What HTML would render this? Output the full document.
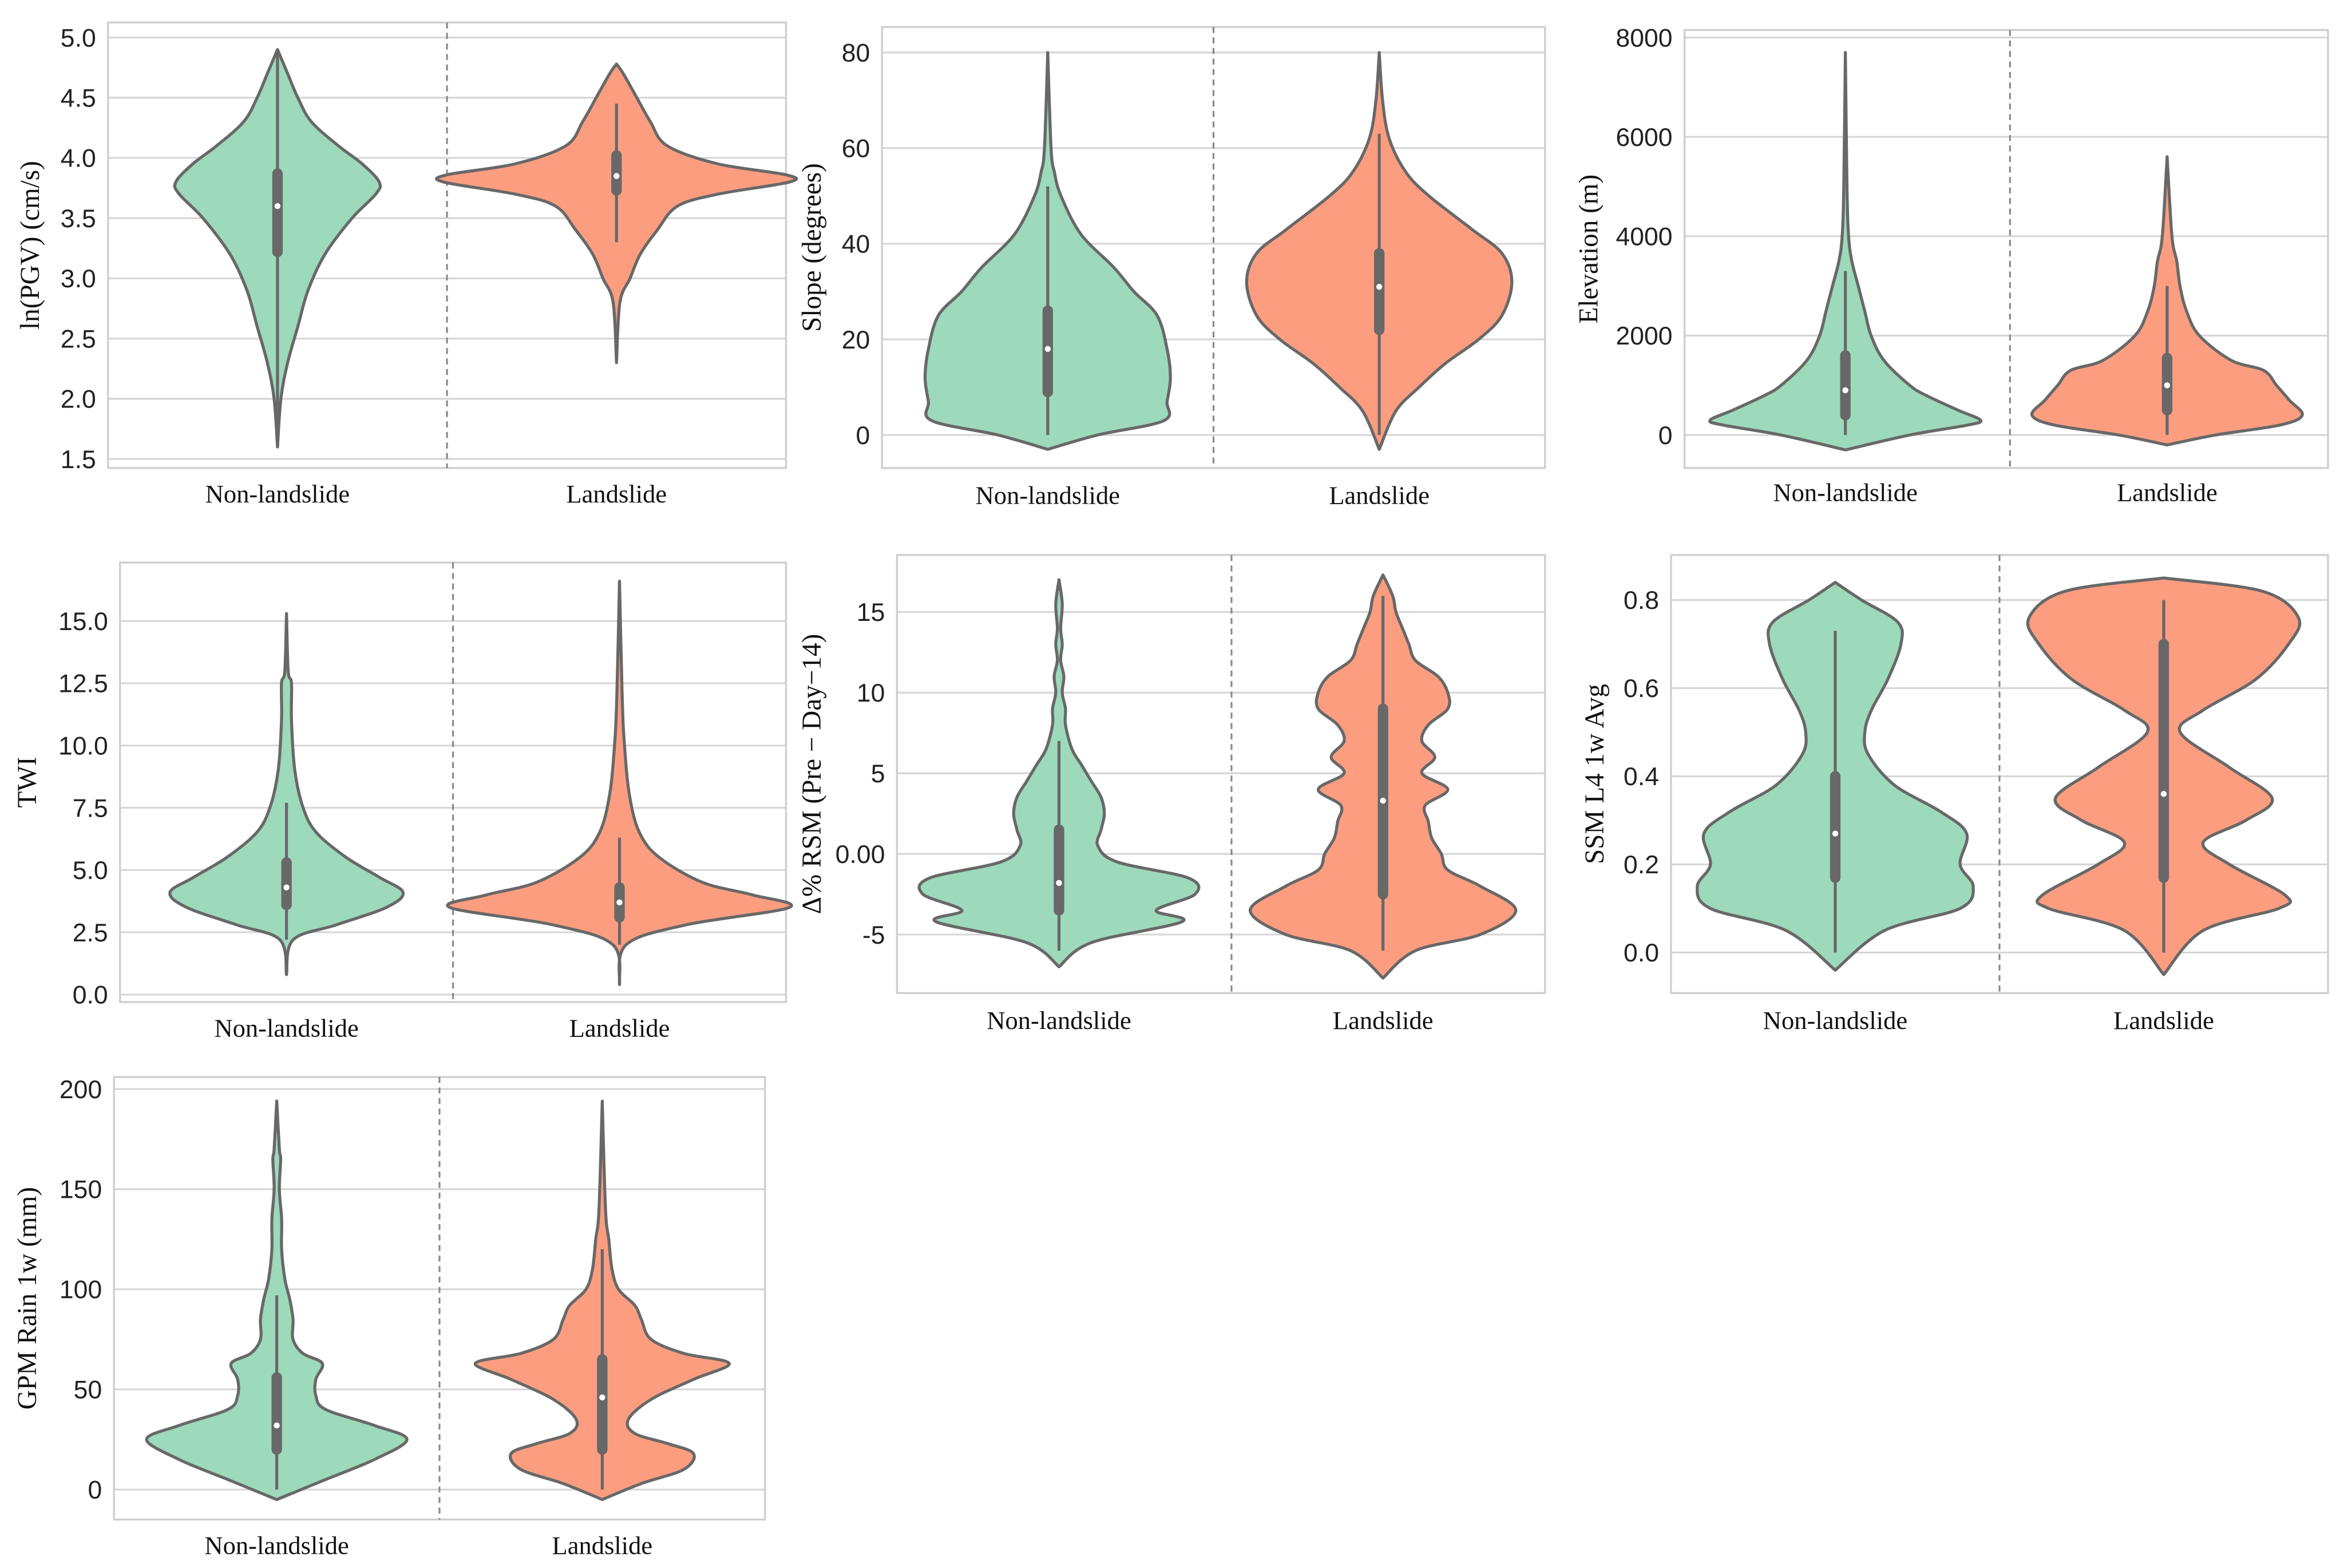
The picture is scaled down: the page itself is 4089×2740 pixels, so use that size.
<!DOCTYPE html>
<html><head><meta charset="utf-8"><style>
html,body{margin:0;padding:0;background:#fff;}
svg{display:block;}
.tick{font-family:"Liberation Sans",sans-serif;font-size:17px;fill:#222;}
.cat{font-family:"Liberation Serif",serif;font-size:17px;fill:#111;}
.ylab{font-family:"Liberation Serif",serif;font-size:18px;fill:#111;}
</style></head><body>
<svg id="chart" width="4089" height="2740" viewBox="0 0 1560 1045.3" preserveAspectRatio="none" xmlns="http://www.w3.org/2000/svg"></svg>
<script>
// ---- data: density profiles [value, relative half width], box stats [q1, median, q3, whiskerLo, whiskerHi]
const categories = ["Non-landslide", "Landslide"];
const pgvNL = [[1.6,0],[2.0,0.01],[2.3,0.03],[2.6,0.06],[2.9,0.09],[3.2,0.14],[3.5,0.22],[3.7,0.29],[3.8,0.30],[3.95,0.25],[4.1,0.18],[4.3,0.10],[4.5,0.06],[4.7,0.03],[4.9,0]];
const pgvL = [[2.3,0],[2.8,0.01],[3.0,0.04],[3.2,0.07],[3.4,0.12],[3.6,0.18],[3.7,0.3],[3.8,0.51],[3.86,0.5],[3.95,0.3],[4.1,0.15],[4.3,0.1],[4.5,0.06],[4.7,0.02],[4.78,0]];
const pgvBox = [[3.22,3.6,3.87,1.6,4.9],[3.73,3.85,4.02,3.3,4.45]];
const slopeNL = [[-3,0],[0,0.15],[3,0.35],[7,0.36],[12,0.37],[18,0.36],[25,0.33],[30,0.26],[35,0.2],[42,0.1],[50,0.04],[55,0.02],[60,0.01],[80,0]];
const slopeL = [[-3,0],[5,0.05],[10,0.12],[15,0.2],[20,0.3],[25,0.37],[32,0.40],[38,0.37],[43,0.28],[50,0.15],[55,0.08],[62,0.03],[70,0.01],[80,0]];
const slopeBox = [[9,18,26,0,52],[22,31,38,0,63]];
const elevNL = [[-300,0],[0,0.2],[200,0.38],[300,0.42],[500,0.35],[800,0.25],[1000,0.2],[1500,0.12],[2000,0.08],[2500,0.06],[3000,0.04],[3500,0.02],[4000,0.01],[5000,0.005],[7700,0]];
const elevL = [[-200,0],[0,0.15],[200,0.35],[400,0.42],[700,0.38],[1000,0.34],[1300,0.3],[1500,0.2],[2000,0.1],[2500,0.06],[3000,0.04],[3500,0.03],[4000,0.015],[5600,0]];
const elevBox = [[400,900,1600,0,3300],[500,1000,1550,0,3000]];
const twiNL = [[0.8,0],[2.2,0.02],[2.8,0.15],[3.5,0.3],[4.1,0.35],[4.7,0.28],[5.5,0.18],[6.5,0.09],[7.5,0.05],[9,0.025],[11,0.015],[12.5,0.015],[13,0.005],[15.3,0]];
const twiL = [[0.4,0],[2,0.02],[2.8,0.2],[3.5,0.51],[4,0.4],[4.5,0.25],[5.5,0.12],[6.5,0.06],[8,0.03],[10,0.015],[12,0.008],[16.6,0]];
const twiBox = [[3.6,4.3,5.3,2.2,7.7],[3.1,3.7,4.3,2.0,6.3]];
const rsmNL = [[-7,0],[-5.5,0.1],[-4.2,0.38],[-3.5,0.3],[-2.5,0.42],[-1.5,0.4],[-0.5,0.18],[0.5,0.12],[1.5,0.13],[2.5,0.14],[3.5,0.13],[4.5,0.1],[5.5,0.07],[6.5,0.04],[8,0.02],[9,0.02],[10,0.01],[11,0.015],[12,0.005],[13,0.01],[14,0.005],[15.5,0.01],[17,0]];
const rsmL = [[-7.7,0],[-6,0.1],[-5,0.3],[-3.5,0.41],[-2,0.3],[-1,0.2],[0,0.18],[1,0.15],[2,0.14],[3,0.13],[4,0.2],[5,0.12],[6,0.16],[7,0.12],[8,0.14],[9,0.2],[10,0.2],[11,0.17],[12,0.1],[13,0.08],[14,0.06],[15,0.04],[16,0.03],[17.3,0]];
const rsmBox = [[-3.5,-1.8,1.5,-6,7],[-2.5,3.3,9,-6,16]];
const ssmNL = [[-0.04,0],[0.05,0.15],[0.1,0.38],[0.15,0.42],[0.2,0.38],[0.27,0.4],[0.32,0.32],[0.38,0.18],[0.45,0.1],[0.5,0.09],[0.55,0.11],[0.62,0.16],[0.7,0.2],[0.75,0.19],[0.8,0.08],[0.84,0]];
const ssmL = [[-0.05,0],[0.05,0.12],[0.1,0.35],[0.13,0.37],[0.2,0.2],[0.25,0.12],[0.3,0.25],[0.35,0.33],[0.42,0.2],[0.5,0.05],[0.55,0.12],[0.62,0.28],[0.7,0.38],[0.76,0.41],[0.82,0.3],[0.85,0]];
const ssmBox = [[0.17,0.27,0.4,0,0.73],[0.17,0.36,0.7,0,0.8]];
const gpmNL = [[-5,0],[5,0.15],[15,0.3],[25,0.4],[32,0.3],[40,0.15],[47,0.12],[55,0.12],[63,0.14],[68,0.08],[75,0.05],[85,0.05],[95,0.04],[105,0.025],[120,0.015],[135,0.015],[150,0.008],[165,0.012],[170,0.008],[194,0]];
const gpmL = [[-5,0],[3,0.12],[10,0.25],[18,0.28],[23,0.2],[28,0.1],[35,0.08],[45,0.15],[55,0.28],[63,0.39],[68,0.25],[75,0.15],[85,0.12],[92,0.1],[100,0.05],[110,0.03],[125,0.02],[140,0.01],[194,0]];
const gpmBox = [[20,32,56,0,97],[20,46,65,0,120]];
const pgvTicks=[1.5,2.0,2.5,3.0,3.5,4.0,4.5,5.0], slopeTicks=[0,20,40,60,80], elevTicks=[0,2000,4000,6000,8000],
 twiTicks=[0,2.5,5,7.5,10,12.5,15], rsmTicks=[-5,0,5,10,15], ssmTicks=[0,0.2,0.4,0.6,0.8], gpmTicks=[0,50,100,150,200];

const panels = [
 {name:"pgv",L:72,R:524,T:15,B:312,p0:306,v0:1.5,p1:25,v1:5.0,ticks:pgvTicks,dec:1,label:"ln(PGV) (cm/s)",lx:20,cy:330,div:298,v:[pgvNL,pgvL],box:pgvBox},
 {name:"slope",L:588,R:1030,T:18,B:312,p0:290,v0:0,p1:35,v1:80,ticks:slopeTicks,dec:0,label:"Slope (degrees)",lx:541,cy:331,div:809,v:[slopeNL,slopeL],box:slopeBox},
 {name:"elevation",L:1123,R:1552,T:20,B:312,p0:290,v0:0,p1:25,v1:8000,ticks:elevTicks,dec:0,label:"Elevation (m)",lx:1059,cy:329,div:1340,v:[elevNL,elevL],box:elevBox},
 {name:"twi",L:80,R:524,T:375,B:668,p0:663,v0:0,p1:414,v1:15,ticks:twiTicks,dec:1,label:"TWI",lx:18,cy:686,div:302,v:[twiNL,twiL],box:twiBox},
 {name:"rsm",L:598,R:1030,T:370,B:662,p0:623,v0:-5,p1:408,v1:15,ticks:rsmTicks,dec:2,label:"Δ% RSM (Pre − Day−14)",lx:541,cy:681,div:821,v:[rsmNL,rsmL],box:rsmBox,fmt:t=>t===0?"0.00":String(t)},
 {name:"ssm",L:1114,R:1552,T:370,B:662,p0:635,v0:0,p1:400,v1:0.8,ticks:ssmTicks,dec:1,label:"SSM L4 1w Avg",lx:1063,cy:681,div:1333,v:[ssmNL,ssmL],box:ssmBox},
 {name:"gpm",L:76,R:510,T:718,B:1013,p0:993,v0:0,p1:726,v1:200,ticks:gpmTicks,dec:0,label:"GPM Rain 1w (mm)",lx:18,cy:1031,div:293,v:[gpmNL,gpmL],box:gpmBox}
];
const fills=["#9dd9bb","#fd9d80"], stroke="#686868";
const NS="http://www.w3.org/2000/svg", svg=document.getElementById("chart");
function mk(tag,attrs,parent){const e=document.createElementNS(NS,tag);for(const k in attrs)e.setAttribute(k,attrs[k]);(parent||svg).appendChild(e);return e;}
function spline(pts){let d="M"+pts[0][0]+","+pts[0][1];for(let i=0;i<pts.length-1;i++){const p0=pts[Math.max(i-1,0)],p1=pts[i],p2=pts[i+1],p3=pts[Math.min(i+2,pts.length-1)];
 const c1=[p1[0]+(p2[0]-p0[0])/6,p1[1]+(p2[1]-p0[1])/6],c2=[p2[0]-(p3[0]-p1[0])/6,p2[1]-(p3[1]-p1[1])/6];
 d+=" C"+c1[0].toFixed(2)+","+c1[1].toFixed(2)+" "+c2[0].toFixed(2)+","+c2[1].toFixed(2)+" "+p2[0].toFixed(2)+","+p2[1].toFixed(2);}return d;}
panels.forEach(P=>{
 const g=mk("g",{});
 
 
 const y=v=>P.p0+(v-P.v0)*(P.p1-P.p0)/(P.v1-P.v0);
 const cw=(P.R-P.L)/2, cx=i=>P.L+cw*(i+0.5);
 P.ticks.forEach(t=>{
  const gl=mk("line",{x1:P.L,x2:P.R,y1:y(t),y2:y(t),stroke:"#d6d6d6","stroke-width":1.2},g);
  
  
  const tl=mk("text",{x:P.L-8,y:y(t)+6,"text-anchor":"end",class:"tick"},g);
  tl.textContent=P.fmt?P.fmt(t):t.toFixed(P.dec);
  
  
 });
 const fr=mk("rect",{x:P.L,y:P.T,width:P.R-P.L,height:P.B-P.T,fill:"none",stroke:"#cfcfcf","stroke-width":1.3},g);
 
 
 const dv=mk("line",{x1:P.div,x2:P.div,y1:P.T,y2:P.B,stroke:"#888","stroke-width":1.2,"stroke-dasharray":"4,3"},g);
 
 
 P.v.forEach((prof,i)=>{
  const c=cx(i);
  const right=prof.map(p=>[c+p[1]*cw,y(p[0])]);
  const left=prof.slice().reverse().map(p=>[c-p[1]*cw,y(p[0])]);
  const d=spline(right)+" "+spline(left).replace(/^M/,"L")+" Z";
  const vp=mk("path",{d:d,fill:fills[i],stroke:stroke,"stroke-width":2,"stroke-linejoin":"round"},g);
  
  
  const b=P.box[i];
  const wl=mk("line",{x1:c,x2:c,y1:y(b[3]),y2:y(b[4]),stroke:stroke,"stroke-width":2},g);
  
  
  const bx=mk("line",{x1:c,x2:c,y1:y(b[0]),y2:y(b[2]),stroke:stroke,"stroke-width":7,"stroke-linecap":"round"},g);
  
  
  const md=mk("circle",{cx:c,cy:y(b[1]),r:2,fill:"#fff"},g);
  
  
  const cl=mk("text",{x:c,y:P.cy+5,"text-anchor":"middle",class:"cat"},g);
  cl.textContent=categories[i];
  
  
 });
 const yl=mk("text",{x:0,y:0,"text-anchor":"middle",class:"ylab",transform:"translate("+(P.lx+6)+","+((P.T+P.B)/2)+") rotate(-90)"},g);
 yl.textContent=P.label;
 
 
});
</script>
</body></html>
